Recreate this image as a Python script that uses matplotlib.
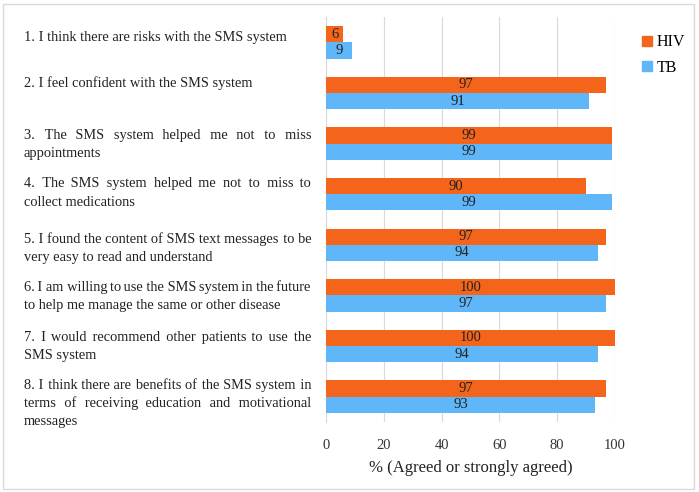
import matplotlib
matplotlib.use('Agg')
import matplotlib.pyplot as plt
from matplotlib.patches import Patch, Rectangle

plt.rcParams['font.family'] = ['Liberation Serif', 'DejaVu Serif']

# ── data ──
# statements wrapped into lines as in the source figure
statement_lines = [
    ["1. I think there are risks with the SMS system"],
    ["2. I feel confident with the SMS system"],
    ["3. The SMS system helped me not to miss", "appointments"],
    ["4. The SMS system helped me not to miss to", "collect medications"],
    ["5. I found the content of SMS text messages to be", "very easy to read and understand"],
    ["6. I am willing to use the SMS system in the future", "to help me manage the same or other disease"],
    ["7. I would recommend other patients to use the", "SMS system"],
    ["8. I think there are benefits of the SMS system in",
     "terms of receiving education and motivational", "messages"],
]
hiv = [6, 97, 99, 90, 97, 100, 100, 97]
tb  = [9, 91, 99, 99, 94, 97, 94, 93]
xticks = [0, 20, 40, 60, 80, 100]

HIV_COL = '#F4651B'
TB_COL  = '#5FB6F9'

W, H = 699, 492
fig = plt.figure(figsize=(W / 100, H / 100), dpi=100)
fig.patches.append(Rectangle((3 / W, 3 / H), 691 / W, 485 / H, transform=fig.transFigure,
                             fill=False, edgecolor='#d9d9d9', lw=1))

ax = fig.add_axes([326 / W, 1 - 422 / H, (615 - 326) / W, (422 - 17) / H])
y = list(range(len(hiv)))
bh = 0.32
b1 = ax.barh([i - bh / 2 for i in y], hiv, height=bh, color=HIV_COL, zorder=3)
b2 = ax.barh([i + bh / 2 for i in y], tb, height=bh, color=TB_COL, zorder=3)
for bars, vals in ((b1, hiv), (b2, tb)):
    for b, v in zip(bars, vals):
        ax.text(v / 2, b.get_y() + b.get_height() / 2, f'{v}', ha='center', va='center',
                fontsize=10.5, color='#222222', zorder=4)

ax.set_ylim(len(hiv) - 0.5, -0.5)
ax.set_xlim(0, 100)
ax.set_xticks(xticks)
ax.set_xticklabels([str(t) for t in xticks], fontsize=10.5, color='#333333')
ax.set_yticks([])
ax.tick_params(axis='x', length=0, pad=12)
ax.grid(axis='x', color='#d9d9d9', lw=0.8, zorder=0)
for s in ['top', 'right', 'bottom']:
    ax.spines[s].set_visible(False)
ax.spines['left'].set_color('#d9d9d9')
ax.set_xlabel('% (Agreed or strongly agreed)', fontsize=12, color='#222222', labelpad=6)

fig.legend(handles=[Patch(color=HIV_COL, label='HIV'), Patch(color=TB_COL, label='TB')],
           loc='upper left', bbox_to_anchor=(628 / W, 1 - 20 / H), frameon=False,
           handlelength=0.6, handleheight=0.6, handletextpad=0.3, labelspacing=0.6,
           fontsize=11.5)

# ── left-hand statements, justified like the source ──
# one Text per line (keeps a common baseline); gaps built from normal + hair spaces
line_y = [[36], [82], [135, 153], [183, 201], [238, 257], [287, 305], [337, 354], [385, 403, 420]]
X0, X1 = 24, 311
LFS = 10.4
BASE = 4.5   # px from visual middle of the line down to the baseline
renderer = fig.canvas.get_renderer()

def text_width(s):
    t = fig.text(0, 0, s, fontsize=LFS)
    bb = t.get_window_extent(renderer)
    t.remove()
    return bb.width

def char_width(c):
    return (text_width('a' + c * 20 + 'a') - text_width('aa')) / 20

SP, HAIR = ' ', '\u200a'
sp_w, hair_w = char_width(SP), char_width(HAIR)

def justify(words, width):
    widths = [text_width(w) for w in words]
    n = len(words) - 1
    target = (width - sum(widths)) / n
    out, err = words[0], 0.0
    for w in words[1:]:
        want = target + err
        k = max(0, int(want // sp_w))
        rest = want - k * sp_w
        j = max(0, int(round(rest / hair_w))) if hair_w > 0 else 0
        if k == 0 and j == 0:
            j = 1
        got = k * sp_w + j * hair_w
        err = want - got
        out += SP * k + HAIR * j + w
    return out

for lines, ys in zip(statement_lines, line_y):
    for k, (line, py) in enumerate(zip(lines, ys)):
        by = 1 - (py + BASE) / H
        words = line.split()
        if k < len(lines) - 1 and len(words) > 1:
            line = justify(words, X1 - X0)
        fig.text(X0 / W, by, line, fontsize=LFS, va='baseline', color='#222222')

fig.savefig('out.png', dpi=100)
